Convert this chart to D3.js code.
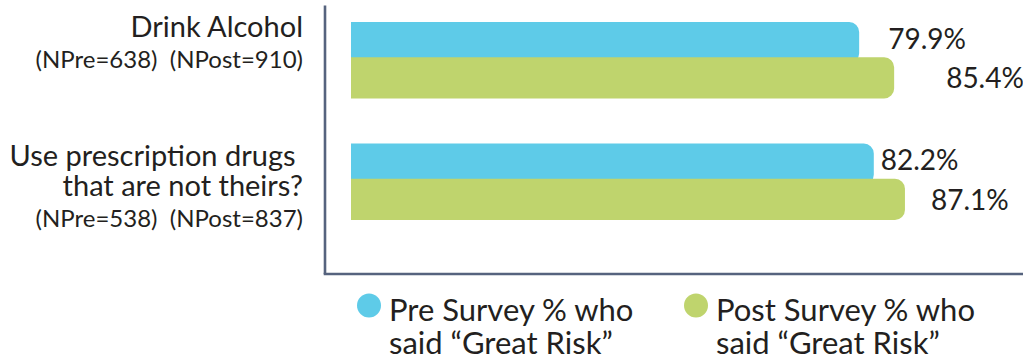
<!DOCTYPE html>
<html>
<head>
<meta charset="utf-8">
<script src="https://cdn.jsdelivr.net/npm/d3@7"></script>
<style>
  html, body { margin: 0; padding: 0; background: #fff; }
  svg { display: block; font-family: Lato, "Open Sans", sans-serif; }
</style>
</head>
<body>
<svg id="chart" width="1023" height="362"></svg>
<script>
// ---- data ----
const categories = ["Drink Alcohol", "Use prescription drugs that are not theirs?"];
const categoryLines = [["Drink Alcohol"], ["Use prescription drugs\u00A0", "that are not theirs?"]];
const sampleLabels = ["(NPre=638)\u00A0\u00A0(NPost=910)", "(NPre=538)\u00A0\u00A0(NPost=837)"];
const series = ["Pre Survey % who said \u201CGreat Risk\u201D", "Post Survey % who said \u201CGreat Risk\u201D"];
const legendLines = [["Pre Survey % who", "said \u201CGreat Risk\u201D"], ["Post Survey % who", "said \u201CGreat Risk\u201D"]];
const preValues = [79.9, 82.2];
const postValues = [85.4, 87.1];

// ---- style ----
const colors = ["#5ECBE8", "#BFD46D"];
const axisColor = "#56637E";
const textColor = "#231F20";
const labelNudge = [[29, 52], [7, 26]];      // per-label horizontal nudge from bar end
const catTitleOffset = [15, 23];             // first title baseline offset from band start

const svg = d3.select("#chart");

const x = d3.scaleLinear().domain([0, 100]).range([351, 987]);
const y = d3.scaleBand().domain(categories).range([22, 220]).paddingInner(0.37);
const ys = d3.scaleBand().domain(series).range([0, y.bandwidth()]);
const overlap = 3;

const rows = categories.map((c, i) => ({ cat: c, i, vals: [preValues[i], postValues[i]] }));

function rightRounded(x0, y0, w, h, r) {
  r = Math.min(r, h / 2, w);
  return `M${x0},${y0}H${x0 + w - r}A${r},${r} 0 0 1 ${x0 + w},${y0 + r}` +
         `V${y0 + h - r}A${r},${r} 0 0 1 ${x0 + w - r},${y0 + h}H${x0}Z`;
}

// bars
const g = svg.append("g");
rows.forEach(row => {
  row.vals.forEach((v, si) => {
    const yTop = y(row.cat) + ys(series[si]) - (si === 1 ? overlap : 0);
    const h = ys.bandwidth() + overlap;
    g.append("path")
      .attr("d", rightRounded(x(0), yTop, x(v) - x(0), h, 10))
      .attr("fill", colors[si]);
  });
});

// value labels
rows.forEach(row => {
  row.vals.forEach((v, si) => {
    const yMid = y(row.cat) + ys(series[si]) + ys.bandwidth() / 2 - (si === 1 ? 1 : 2);
    g.append("text")
      .attr("x", x(v) + labelNudge[row.i][si])
      .attr("y", yMid)
      .attr("dy", "0.35em")
      .attr("font-size", 28)
      .attr("fill", textColor)
      .text(d3.format(".1f")(v) + "%");
  });
});

// axes lines
const yAxis = d3.axisLeft(y).tickSize(0).tickFormat("");
svg.append("g")
  .attr("transform", "translate(325,0)")
  .call(yAxis)
  .call(s => s.select(".domain").attr("d", "M0,5.5V274").attr("stroke", axisColor).attr("stroke-width", 2.6));
svg.append("line")
  .attr("x1", 325 - 1.3).attr("x2", 1023)
  .attr("y1", 274).attr("y2", 274)
  .attr("stroke", axisColor).attr("stroke-width", 2.6);

// category labels (one text element per category, lines as tspans)
rows.forEach(row => {
  const lines = categoryLines[row.i];
  const t0 = y(row.cat) + catTitleOffset[row.i];
  const t = svg.append("text")
    .attr("x", 303).attr("y", t0)
    .attr("text-anchor", "end")
    .attr("fill", textColor);
  lines.forEach((ln, li) => {
    t.append("tspan")
      .attr("x", 303).attr("y", t0 + li * 30)
      .attr("font-size", 29)
      .text(ln);
  });
  t.append("tspan")
    .attr("x", 303).attr("y", t0 + lines.length * 30 + 1)
    .attr("font-size", 24)
    .text(sampleLabels[row.i]);
});

// legend
const legendX = [369, 696];
series.forEach((s, si) => {
  const lg = svg.append("g");
  lg.append("circle")
    .attr("cx", legendX[si]).attr("cy", 305.5).attr("r", 12)
    .attr("fill", colors[si]);
  const t = lg.append("text")
    .attr("x", legendX[si] + 20).attr("y", 321)
    .attr("font-size", 31)
    .attr("fill", textColor);
  legendLines[si].forEach((ln, li) => {
    t.append("tspan")
      .attr("x", legendX[si] + 20).attr("y", 321 + li * 33)
      .text(ln);
  });
});
</script>
</body>
</html>
